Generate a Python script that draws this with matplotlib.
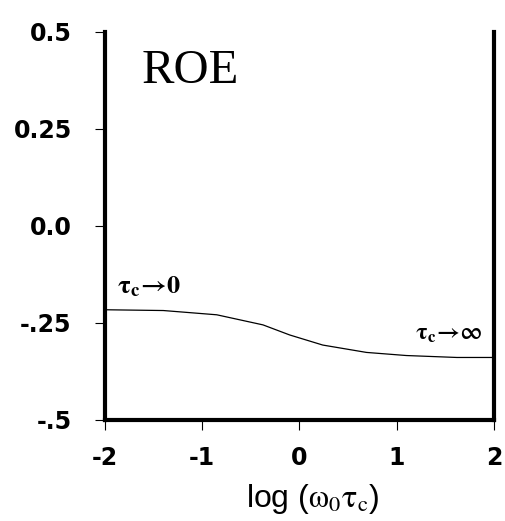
import matplotlib
matplotlib.use("Agg")
import matplotlib.pyplot as plt

# curve
log_wt = [-2.0, -1.4, -0.85, -0.375, -0.1, 0.24, 0.69, 1.1, 1.62, 2.0]
roe = [-0.216, -0.218, -0.229, -0.255, -0.281, -0.307, -0.326, -0.334, -0.339, -0.339]

x_ticks = [-2, -1, 0, 1, 2]
y_ticks = [-0.5, -0.25, 0.0, 0.25, 0.5]
y_tick_labels = ["-.5", "-.25", "0.0", "0.25", "0.5"]

plt.rcParams["mathtext.fontset"] = "stix"
plt.rcParams["axes.unicode_minus"] = False

fig = plt.figure(figsize=(5.06, 5.21), dpi=100)
ax = fig.add_axes([0.2075, 0.194, 0.7685, 0.7446])

ax.plot(log_wt, roe, color="black", linewidth=0.9)

ax.set_xlim(-2, 2)
ax.set_ylim(-0.5, 0.5)
ax.set_xticks(x_ticks)
ax.set_xticklabels([str(t) for t in x_ticks])
ax.set_yticks(y_ticks)
ax.set_yticklabels(y_tick_labels)

for side in ["left", "right", "bottom"]:
    ax.spines[side].set_linewidth(3)
ax.spines["top"].set_visible(False)

ax.tick_params(direction="out", length=7, width=0.8, pad=12)
ax.tick_params(axis="y", pad=17)
for lab in ax.get_xticklabels() + ax.get_yticklabels():
    lab.set_family("DejaVu Sans")
    lab.set_fontweight("bold")
    lab.set_fontsize(17)

ax.set_xlabel(r"log ($\mathrm{\omega_0\tau_c}$)", fontsize=23, family="Liberation Sans")
ax.xaxis.set_label_coords(0.535, -0.16)

ax.text(-1.62, 0.369, "ROE", family="Liberation Serif", fontsize=35, ha="left", va="baseline")
ax.text(-1.877, -0.173, r"$\mathbf{\tau_{c}\!\rightarrow\! 0}$", fontsize=19, ha="left", va="baseline")
ax.text(1.887, -0.294, r"$\mathbf{\tau_{c}\!\rightarrow\!\infty}$", fontsize=17, ha="right", va="baseline")

fig.savefig("out.png", dpi=100)
